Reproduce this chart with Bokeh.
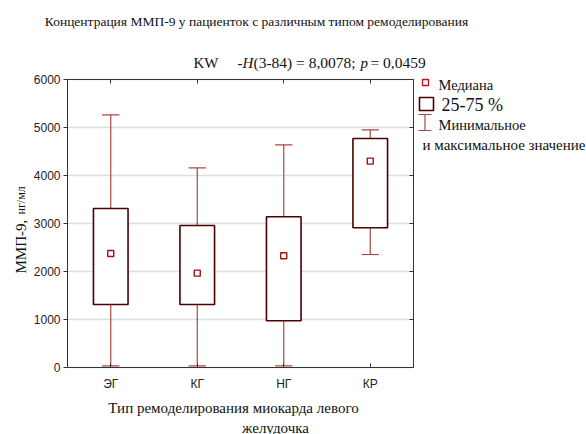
import math
from bokeh.plotting import figure
from bokeh.models import Range1d, LinearAxis, FixedTicker, Label
from bokeh.embed import file_html
from bokeh.resources import INLINE

categories = ["ЭГ", "КГ", "НГ", "КР"]
mins = [35, 35, 35, 2354]
q1 = [1312, 1312, 973, 2910]
medians = [2375, 1966, 2327, 4300]
q3 = [3313, 2958, 3140, 4771]
maxs = [5265, 4160, 4640, 4952]
y_ticks = [0, 1000, 2000, 3000, 4000, 5000, 6000]

W, H = 586, 434
# plot-area placement (pixels) and its data extent
PX0, PX1, PY0, PY1 = 67.0, 413.0, 79.0, 367.0   # left, right, top, bottom
XD0, XD1, YD0, YD1 = -0.5, 3.5, 0.0, 6000.0

kx = (PX1 - PX0) / (XD1 - XD0)
ky = (PY1 - PY0) / (YD1 - YD0)
x_range = Range1d(XD0 - PX0 / kx, XD1 + (W - PX1) / kx)
y_range = Range1d(YD0 - (H - PY1) / ky, YD1 + PY0 / ky)


def dx(X):
    return XD0 + (X - PX0) / kx


def dy(Y):
    return YD0 + (PY1 - Y) / ky


p = figure(width=W, height=H, output_backend="svg", toolbar_location=None,
           x_range=x_range, y_range=y_range, min_border=0,
           x_axis_location=None, y_axis_location=None)
p.outline_line_color = None
p.grid.visible = False
p.background_fill_color = "white"
p.border_fill_color = "white"

xs = list(range(len(categories)))
TICK_FONT = "Liberation Sans"
SERIF = "Liberation Serif"
AX = "#333333"

# grid lines
p.segment(x0=[XD0] * len(y_ticks), x1=[XD1] * len(y_ticks), y0=y_ticks, y1=y_ticks,
          line_color="#dedede", line_width=1.5)


def make_axis(side, loc, ticks, bounds, labels=None, tick_in=0, tick_out=0, show_labels=True):
    ax = LinearAxis(ticker=FixedTicker(ticks=ticks), fixed_location=loc, bounds=bounds)
    ax.major_tick_in = tick_in
    ax.major_tick_out = tick_out
    ax.minor_tick_line_color = None
    ax.axis_line_color = AX
    ax.major_tick_line_color = AX
    if labels:
        ax.major_label_overrides = labels
    if show_labels:
        ax.major_label_text_font = TICK_FONT
        ax.major_label_text_font_size = "12px"
        ax.major_label_text_color = "#222222"
    else:
        ax.major_label_text_color = None
        ax.major_label_text_font_size = "0px"
    p.add_layout(ax, side)
    return ax


la = make_axis("left", XD0, y_ticks, (YD0, YD1), tick_out=4)
la.major_label_standoff = 3
make_axis("right", XD1, y_ticks, (YD0, YD1), tick_in=4, show_labels=False)
ba = make_axis("below", YD0, xs, (XD0, XD1), labels={i: c for i, c in zip(xs, categories)}, tick_in=4)
ba.major_label_standoff = 9
make_axis("above", YD1, xs, (XD0, XD1), tick_in=4, show_labels=False)

WH = "#a84848"
# whiskers
p.segment(x0=xs, y0=mins, x1=xs, y1=q1, line_color=WH, line_width=1.2)
p.segment(x0=xs, y0=q3, x1=xs, y1=maxs, line_color=WH, line_width=1.2)
p.segment(x0=[x - 0.1 for x in xs], y0=mins, x1=[x + 0.1 for x in xs], y1=mins, line_color=WH, line_width=1.2)
p.segment(x0=[x - 0.1 for x in xs], y0=maxs, x1=[x + 0.1 for x in xs], y1=maxs, line_color=WH, line_width=1.2)
# boxes
p.quad(left=[x - 0.2 for x in xs], right=[x + 0.2 for x in xs], bottom=q1, top=q3,
       fill_color="white", line_color="#4a0000", line_width=1.6)
# medians
p.scatter(x=xs, y=medians, marker="square", size=6, fill_color="white",
          line_color="#a01010", line_width=1.4)


def lab(X, Y, text, size="13px", font=SERIF, align="left", style="normal",
        color="#111111", angle=0.0, baseline="middle"):
    p.add_layout(Label(x=X, y=H - Y, x_units="screen", y_units="screen",
                       text=text, text_font=font, text_font_size=size,
                       text_align=align, text_baseline=baseline, text_color=color,
                       text_font_style=style, angle=angle))


lab(256, 21, "Концентрация ММП-9 у пациенток с различным типом ремоделирования",
    size="13.5px", align="center")
SUB = "15px"
lab(193, 62, "KW", size=SUB)
lab(237, 62, "-", size=SUB)
lab(242, 62, "H", size=SUB, style="italic")
lab(253, 62, "(3-84) = 8,0078;", size="15.5px")
lab(360, 62, "p", size=SUB, style="italic")
lab(370, 62, "= 0,0459", size="15.5px")

lab(20, 273, "ММП-9,", size="15px", angle=math.pi / 2, baseline="alphabetic")
lab(20, 214, "нг/мл", size="12px", angle=math.pi / 2, baseline="alphabetic")
lab(233, 407, "Тип ремоделирования миокарда левого", size="15px", align="center")
lab(275, 427, "желудочка", size="15px", align="center")

# legend
p.scatter(x=[dx(425)], y=[dy(82)], marker="square", size=6, fill_color="white",
          line_color="#c01010", line_width=1.3)
lab(438, 84, "Медиана", size="14.5px")
p.quad(left=[dx(419)], right=[dx(433)], top=[dy(97)], bottom=[dy(110)],
       fill_color="white", line_color="#4a0000", line_width=1.6)
lab(441, 104, "25-75 %", size="18px")
p.segment(x0=[dx(424.5), dx(418), dx(418)], x1=[dx(424.5), dx(431), dx(431)],
          y0=[dy(114), dy(114), dy(130)], y1=[dy(130), dy(114), dy(130)],
          line_color=WH, line_width=1.2)
lab(438, 124, "Минимальное", size="14.5px")
lab(422, 144, "и максимальное значение", size="15px")

open("out.html", "w").write(file_html(p, INLINE))
